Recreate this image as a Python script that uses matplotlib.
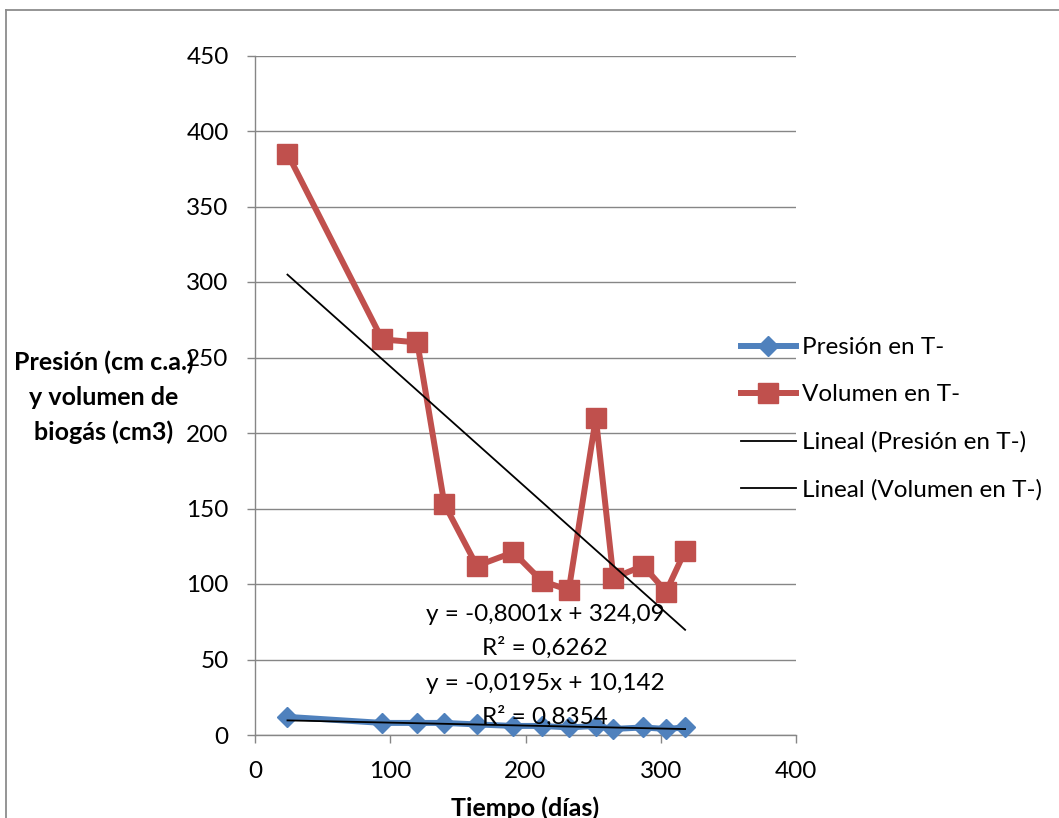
import matplotlib
matplotlib.use("Agg")
import matplotlib.pyplot as plt
from matplotlib.lines import Line2D
import numpy as np

plt.rcParams['font.family'] = ['Lato', 'DejaVu Sans']

# ---- data ----
tiempo = [24, 94, 120, 140, 164, 191, 212, 232, 252, 265, 287, 304, 318]
presion = [12, 8, 8, 8, 7, 6, 6, 5, 6, 4, 5, 4, 5]
volumen = [385, 262, 260, 153, 112, 121, 102, 96, 210, 104, 112, 95, 122]

trend_presion = [-0.0195, 10.142]   # slope, intercept
trend_volumen = [-0.8001, 324.09]
eq_presion = ["y = -0,0195x + 10,142", "R² = 0,8354"]
eq_volumen = ["y = -0,8001x + 324,09", "R² = 0,6262"]

series_labels = ["Presión en T-", "Volumen en T-",
                 "Lineal (Presión en T-)", "Lineal (Volumen en T-)"]
y_title_lines = ["Presión (cm c.a.)", "y volumen de", "biogás (cm3)"]
x_title = "Tiempo (días)"
x_ticks = [0, 100, 200, 300, 400]
y_ticks = [0, 50, 100, 150, 200, 250, 300, 350, 400, 450]

BLUE = '#4F81BD'
RED = '#C0504D'
GRID = '#868686'

W, H = 1059, 818
fig = plt.figure(figsize=(W / 100, H / 100), dpi=100)
ax = fig.add_axes([255 / W, 1 - 735 / H, (796 - 255) / W, (735 - 55.5) / H])

ax.set_xlim(0, 400)
ax.set_ylim(0, 450)
ax.set_xticks(x_ticks)
ax.set_yticks(y_ticks)
ax.grid(axis='y', color=GRID, linewidth=1.0, zorder=0)
ax.set_axisbelow(True)
for s in ['top', 'right']:
    ax.spines[s].set_visible(False)
for s in ['left', 'bottom']:
    ax.spines[s].set_color(GRID)
    ax.spines[s].set_linewidth(1.0)
ax.tick_params(axis='both', colors=GRID, labelcolor='black', labelsize=17.5,
               length=6, width=1.0, direction='out')
ax.tick_params(axis='y', pad=13)
ax.tick_params(axis='x', pad=13)

l1, = ax.plot(tiempo, presion, color=BLUE, linewidth=4.3, marker='D',
              markersize=10, markerfacecolor=BLUE, markeredgecolor=BLUE,
              zorder=3, clip_on=False)
l2, = ax.plot(tiempo, volumen, color=RED, linewidth=4.3, marker='s',
              markersize=14, markerfacecolor=RED, markeredgecolor=RED,
              zorder=3, clip_on=False)

xt = np.array([tiempo[0], tiempo[-1]], dtype=float)
l3, = ax.plot(xt, np.polyval(trend_presion, xt), color='black', linewidth=1.3, zorder=4)
l4, = ax.plot(xt, np.polyval(trend_volumen, xt), color='black', linewidth=1.3, zorder=4)

# trendline equations
for yv, txt in zip([79.5, 57.6], eq_volumen):
    ax.text(214.5, yv, txt, ha='center', va='center', fontsize=17.5, zorder=5)
for yv, txt in zip([34.4, 11.9], eq_presion):
    ax.text(214.5, yv, txt, ha='center', va='center', fontsize=17.5, zorder=5)

# axis titles (three horizontal lines)
for ypix, line in zip([362, 397, 432], y_title_lines):
    fig.text(104 / W, 1 - ypix / H, line, ha='center', va='center',
             fontsize=18, fontweight='bold')
fig.text(525.5 / W, 1 - 808 / H, x_title, ha='center', va='center',
         fontsize=18, fontweight='bold')

# legend
leg = fig.legend([l1, l2, l3, l4], series_labels,
                 loc='upper left', bbox_to_anchor=(741 / W, 1 - 337 / H),
                 frameon=False, fontsize=17.5, handlelength=2.25,
                 handletextpad=0.25, labelspacing=1.08, borderaxespad=0,
                 borderpad=0)

# outer chart frame
fig.add_artist(Line2D([6 / W, 6 / W], [0, 1 - 10 / H], color='#8c8c8c',
                      linewidth=1.3, transform=fig.transFigure))
fig.add_artist(Line2D([6 / W, 1], [1 - 10 / H, 1 - 10 / H], color='#8c8c8c',
                      linewidth=1.3, transform=fig.transFigure))

fig.savefig('out.png', dpi=100)
